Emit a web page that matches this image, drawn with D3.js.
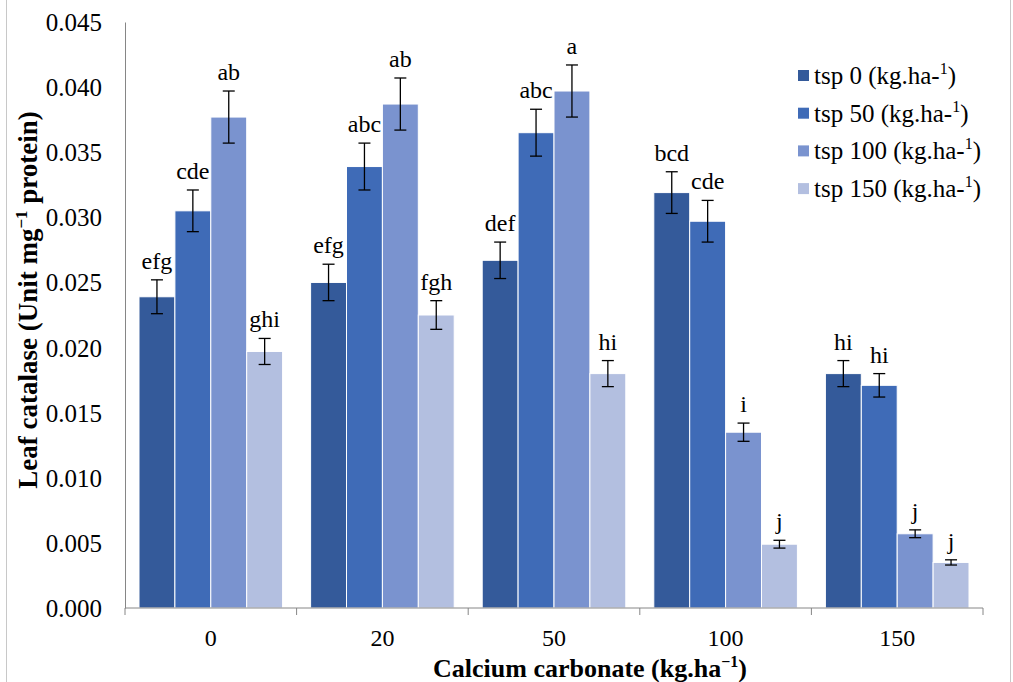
<!DOCTYPE html>
<html>
<head>
<meta charset="utf-8">
<script src="https://cdn.jsdelivr.net/npm/d3@7"></script>
<style>
  body { margin: 0; background: #fff; }
  text { font-family: "Liberation Serif", "Times New Roman", serif; fill: #000; }
</style>
</head>
<body>
<div id="chart"></div>
<script>
// chart data
const categories = ["0", "20", "50", "100", "150"];
const seriesNames = ["tsp 0", "tsp 50", "tsp 100", "tsp 150"];
const tsp0   = [0.0239, 0.0250, 0.0267, 0.0319, 0.0180];
const tsp50  = [0.0305, 0.0339, 0.0365, 0.0297, 0.0171];
const tsp100 = [0.0377, 0.0387, 0.0397, 0.0135, 0.0057];
const tsp150 = [0.0197, 0.0225, 0.0180, 0.0049, 0.0035];
const err0   = [0.0013, 0.0014, 0.0014, 0.0016, 0.0010];
const err50  = [0.0016, 0.0018, 0.0018, 0.0016, 0.0009];
const err100 = [0.0020, 0.0020, 0.0020, 0.0007, 0.0003];
const err150 = [0.0010, 0.0011, 0.0010, 0.0003, 0.0002];
const letters0   = ["efg", "efg", "def", "bcd", "hi"];
const letters50  = ["cde", "abc", "abc", "cde", "hi"];
const letters100 = ["ab", "ab", "a", "i", "j"];
const letters150 = ["ghi", "fgh", "hi", "j", "j"];
const yTicks = [0, 0.005, 0.01, 0.015, 0.02, 0.025, 0.03, 0.035, 0.04, 0.045];
const colors = ["#345a9a", "#3f6bb7", "#7a93cf", "#b3bfe0"];

const values = [tsp0, tsp50, tsp100, tsp150];
const errors = [err0, err50, err100, err150];
const letters = [letters0, letters50, letters100, letters150];

const width = 1013, height = 682;
const margin = {top: 22, left: 125, right: 30, bottom: 74};

const svg = d3.select("#chart").append("svg")
    .attr("width", width)
    .attr("height", height);

// outer frame
svg.append("rect")
    .attr("x", 6.5).attr("y", -1)
    .attr("width", 1004).attr("height", 700)
    .attr("fill", "none")
    .attr("stroke", "#c8c8c8");

const x0 = d3.scaleBand()
    .domain(categories)
    .range([margin.left, width - margin.right]);

const gap = 14;
const x1 = d3.scaleBand()
    .domain(d3.range(seriesNames.length))
    .range([gap, x0.bandwidth() - gap]);

const y = d3.scaleLinear()
    .domain([0, 0.045])
    .range([height - margin.bottom, margin.top]);

/* Y AXIS */
const yAxis = svg.append("g")
    .attr("transform", `translate(${margin.left},0)`)
    .call(d3.axisLeft(y).tickValues(yTicks).tickFormat(d3.format(".3f")).tickSize(0).tickPadding(23));
yAxis.select(".domain").attr("stroke", "#868686");
yAxis.selectAll("text")
    .style("font-size", "25px")
    .style("font-family", "Liberation Serif")
    .attr("dy", "0.34em");

/* BARS */
const flat = [];
categories.forEach((c, i) => {
    seriesNames.forEach((s, j) => {
        flat.push({cat: c, s: j, v: values[j][i], e: errors[j][i], l: letters[j][i]});
    });
});

svg.selectAll("rect.bar")
    .data(flat)
    .enter()
    .append("rect")
    .attr("class", "bar")
    .attr("x", d => x0(d.cat) + x1(d.s))
    .attr("y", d => y(d.v))
    .attr("width", x1.bandwidth())
    .attr("height", d => y(0) - y(d.v))
    .attr("fill", d => colors[d.s])
    .attr("stroke", "#fff")
    .attr("stroke-width", 1);

/* X AXIS */
const xAxisG = svg.append("g").attr("transform", `translate(0,${y(0)})`);
xAxisG.append("line")
    .attr("x1", margin.left).attr("x2", width - margin.right)
    .attr("stroke", "#868686");
xAxisG.selectAll("line.tick")
    .data(categories.concat(["end"]))
    .enter()
    .append("line")
    .attr("class", "tick")
    .attr("x1", (d, i) => i < categories.length ? x0(d) : x0.range()[1])
    .attr("x2", (d, i) => i < categories.length ? x0(d) : x0.range()[1])
    .attr("y1", 0).attr("y2", 7)
    .attr("stroke", "#868686");
xAxisG.selectAll("text")
    .data(categories)
    .enter()
    .append("text")
    .attr("x", d => x0(d) + x0.bandwidth() / 2)
    .attr("y", 38)
    .attr("text-anchor", "middle")
    .style("font-size", "24px")
    .text(d => d);

/* ERROR BARS */
const eb = svg.selectAll("g.err")
    .data(flat)
    .enter()
    .append("g")
    .attr("class", "err")
    .attr("transform", d => `translate(${x0(d.cat) + x1(d.s) + x1.bandwidth() / 2},0)`);
eb.append("line")
    .attr("y1", d => y(d.v + d.e)).attr("y2", d => y(d.v - d.e))
    .attr("stroke", "#000").attr("stroke-width", 1.3);
eb.append("line")
    .attr("x1", -6).attr("x2", 6)
    .attr("y1", d => y(d.v + d.e)).attr("y2", d => y(d.v + d.e))
    .attr("stroke", "#000").attr("stroke-width", 1.3);
eb.append("line")
    .attr("x1", -6).attr("x2", 6)
    .attr("y1", d => y(d.v - d.e)).attr("y2", d => y(d.v - d.e))
    .attr("stroke", "#000").attr("stroke-width", 1.3);
eb.append("text")
    .attr("y", d => y(d.v + d.e) - 11)
    .attr("text-anchor", "middle")
    .style("font-size", "24px")
    .text(d => d.l);

/* LEGEND */
const legend = svg.append("g").attr("transform", "translate(798,76)");
seriesNames.forEach((s, i) => {
    const row = legend.append("g").attr("transform", `translate(0,${i * 37.7})`);
    row.append("rect")
        .attr("x", 0).attr("y", -6)
        .attr("width", 11).attr("height", 11)
        .attr("fill", colors[i]);
    const t = row.append("text")
        .attr("x", 16).attr("y", 8)
        .style("font-size", "25px");
    t.append("tspan").text(`${s} (kg.ha-`);
    t.append("tspan").attr("dy", -10).style("font-size", "16px").text("1");
    t.append("tspan").attr("dy", 10).text(")");
});

/* AXIS LABELS */
const xl = svg.append("text")
    .attr("x", 590)
    .attr("y", 677)
    .attr("text-anchor", "middle")
    .style("font-size", "26px")
    .style("font-weight", "bold");
xl.append("tspan").text("Calcium carbonate (kg.ha");
xl.append("tspan").attr("dy", -10).style("font-size", "16px").text("\u22121");
xl.append("tspan").attr("dy", 10).text(")");

const yl = svg.append("text")
    .attr("transform", "rotate(-90)")
    .attr("x", -300)
    .attr("y", 37)
    .attr("text-anchor", "middle")
    .style("font-size", "27px")
    .style("font-weight", "bold");
yl.append("tspan").text("Leaf catalase (Unit mg");
yl.append("tspan").attr("dy", -10).style("font-size", "17px").text("\u22121");
yl.append("tspan").attr("dy", 10).text(" protein)");
</script>
</body>
</html>
